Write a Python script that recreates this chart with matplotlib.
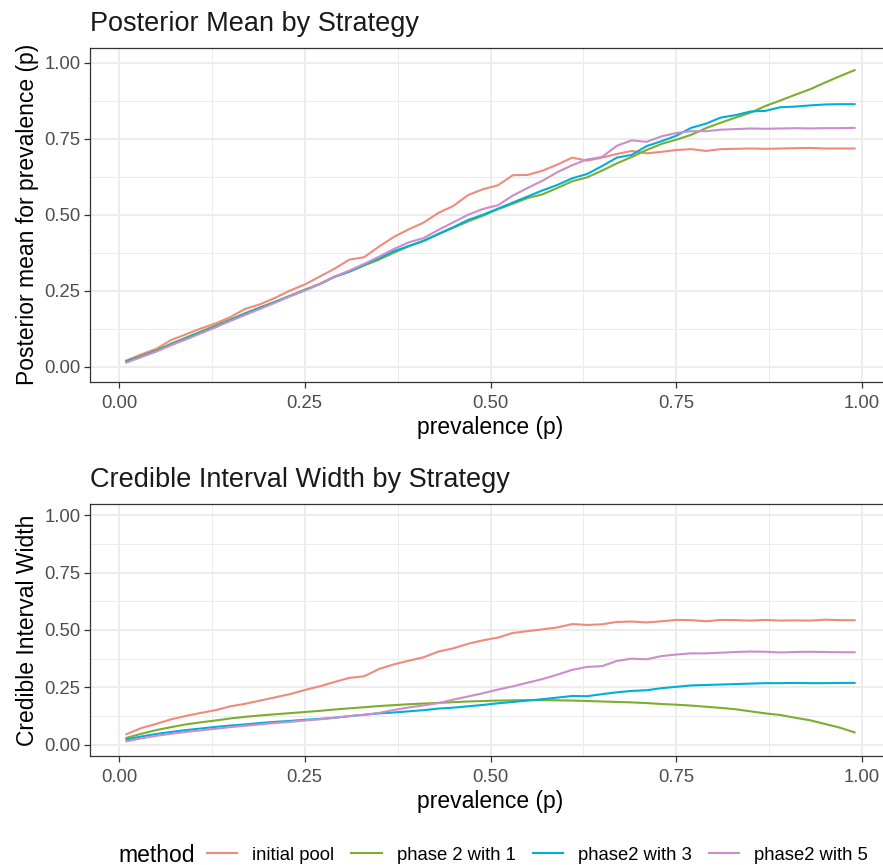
import numpy as np
import matplotlib.pyplot as plt

plt.rcParams['font.family'] = ['Liberation Sans', 'DejaVu Sans']

# prevalence grid (every other simulated point)
prevalence = np.round(np.arange(0.01, 1.0, 0.02), 2)

methods = ["initial pool", "phase 2 with 1", "phase2 with 3", "phase2 with 5"]
colors = ["#F08A7C", "#7CAE2E", "#00AEDC", "#CB8ECB"]

# posterior mean for prevalence
mean_initial = [0.020, 0.040, 0.058, 0.087, 0.106, 0.125, 0.142, 0.163, 0.190, 0.205,
                0.226, 0.250, 0.270, 0.296, 0.322, 0.352, 0.360, 0.395, 0.427, 0.452,
                0.474, 0.506, 0.529, 0.565, 0.584, 0.597, 0.630, 0.631, 0.645, 0.665,
                0.688, 0.678, 0.688, 0.700, 0.710, 0.702, 0.707, 0.713, 0.716, 0.710,
                0.716, 0.717, 0.718, 0.717, 0.718, 0.719, 0.720, 0.718, 0.718, 0.718]
mean_p2w1 = [0.018, 0.035, 0.053, 0.075, 0.095, 0.115, 0.135, 0.155, 0.176, 0.195,
             0.213, 0.233, 0.253, 0.272, 0.296, 0.312, 0.333, 0.352, 0.375, 0.396,
             0.415, 0.436, 0.457, 0.478, 0.497, 0.518, 0.536, 0.555, 0.567, 0.588,
             0.610, 0.623, 0.645, 0.669, 0.690, 0.713, 0.733, 0.747, 0.763, 0.785,
             0.803, 0.820, 0.836, 0.858, 0.876, 0.895, 0.913, 0.935, 0.956, 0.976]
mean_p2w3 = [0.016, 0.033, 0.051, 0.072, 0.092, 0.112, 0.131, 0.153, 0.173, 0.193,
             0.212, 0.232, 0.251, 0.271, 0.295, 0.313, 0.335, 0.357, 0.380, 0.397,
             0.413, 0.437, 0.459, 0.483, 0.500, 0.520, 0.540, 0.560, 0.580, 0.598,
             0.620, 0.634, 0.660, 0.688, 0.697, 0.726, 0.742, 0.760, 0.786, 0.800,
             0.820, 0.828, 0.840, 0.842, 0.854, 0.856, 0.860, 0.863, 0.864, 0.864]
mean_p2w5 = [0.013, 0.031, 0.049, 0.070, 0.089, 0.109, 0.129, 0.150, 0.170, 0.190,
             0.210, 0.231, 0.250, 0.271, 0.296, 0.316, 0.338, 0.362, 0.387, 0.409,
             0.423, 0.450, 0.475, 0.500, 0.519, 0.531, 0.563, 0.588, 0.612, 0.640,
             0.663, 0.682, 0.690, 0.727, 0.745, 0.740, 0.758, 0.769, 0.775, 0.775,
             0.780, 0.782, 0.784, 0.783, 0.784, 0.785, 0.784, 0.785, 0.785, 0.786]

# credible interval width
width_initial = [0.045, 0.072, 0.090, 0.110, 0.125, 0.138, 0.150, 0.167, 0.178, 0.192,
                 0.206, 0.220, 0.238, 0.254, 0.273, 0.291, 0.298, 0.330, 0.350, 0.366,
                 0.381, 0.406, 0.420, 0.440, 0.455, 0.467, 0.487, 0.495, 0.503, 0.511,
                 0.526, 0.522, 0.525, 0.535, 0.537, 0.533, 0.538, 0.544, 0.543, 0.538,
                 0.544, 0.543, 0.541, 0.544, 0.541, 0.542, 0.541, 0.545, 0.543, 0.543]
width_p2w1 = [0.029, 0.047, 0.063, 0.076, 0.088, 0.097, 0.105, 0.114, 0.121, 0.127,
              0.132, 0.137, 0.142, 0.147, 0.153, 0.158, 0.163, 0.168, 0.172, 0.176,
              0.179, 0.182, 0.185, 0.188, 0.190, 0.192, 0.193, 0.194, 0.194, 0.193,
              0.192, 0.190, 0.188, 0.186, 0.184, 0.181, 0.177, 0.174, 0.170, 0.165,
              0.160, 0.154, 0.145, 0.136, 0.129, 0.117, 0.106, 0.090, 0.074, 0.053]
width_p2w3 = [0.022, 0.035, 0.046, 0.055, 0.063, 0.070, 0.077, 0.083, 0.088, 0.094,
              0.099, 0.103, 0.108, 0.112, 0.117, 0.124, 0.130, 0.136, 0.140, 0.145,
              0.150, 0.157, 0.161, 0.167, 0.173, 0.180, 0.186, 0.192, 0.198, 0.205,
              0.212, 0.211, 0.220, 0.228, 0.234, 0.237, 0.246, 0.252, 0.258, 0.260,
              0.262, 0.264, 0.266, 0.268, 0.268, 0.269, 0.268, 0.268, 0.269, 0.269]
width_p2w5 = [0.014, 0.027, 0.038, 0.047, 0.055, 0.062, 0.069, 0.076, 0.082, 0.088,
              0.094, 0.099, 0.105, 0.110, 0.117, 0.124, 0.130, 0.138, 0.151, 0.162,
              0.171, 0.181, 0.196, 0.210, 0.224, 0.240, 0.254, 0.270, 0.286, 0.305,
              0.326, 0.339, 0.342, 0.365, 0.375, 0.372, 0.386, 0.393, 0.398, 0.398,
              0.401, 0.404, 0.406, 0.405, 0.402, 0.404, 0.405, 0.404, 0.403, 0.403]

ticks = [0.0, 0.25, 0.5, 0.75, 1.0]
tick_labels = ["0.00", "0.25", "0.50", "0.75", "1.00"]

W, H = 883, 865
fig = plt.figure(figsize=(W / 100, H / 100), dpi=100)


def px_axes(left, top, right, bottom):
    return fig.add_axes([left / W, 1 - bottom / H, (right - left) / W, (bottom - top) / H])


def style(ax, title, ylabel):
    ax.set_xlim(-0.039, 1.039)
    ax.set_ylim(-0.05, 1.05)
    ax.set_xticks(ticks)
    ax.set_xticklabels(tick_labels)
    ax.set_yticks(ticks)
    ax.set_yticklabels(tick_labels)
    ax.set_xticks([0.125, 0.375, 0.625, 0.875], minor=True)
    ax.set_yticks([0.125, 0.375, 0.625, 0.875], minor=True)
    ax.grid(which='major', color='#EBEBEB', lw=1.3)
    ax.grid(which='minor', color='#EBEBEB', lw=0.7)
    ax.set_axisbelow(True)
    for s in ax.spines.values():
        s.set_color('#333333')
        s.set_linewidth(0.9)
    ax.tick_params(which='major', length=4.3, width=0.9, color='#333333',
                   labelsize=13.3, labelcolor='#4D4D4D')
    ax.tick_params(axis='x', pad=5)
    ax.tick_params(axis='y', pad=2.5)
    ax.tick_params(which='minor', length=0)
    ax.set_title(title, loc='left', fontsize=19.5, color='#1A1A1A', pad=12)
    ax.set_xlabel("prevalence (p)", fontsize=16.5, color='black', labelpad=3)
    ax.set_ylabel(ylabel, fontsize=16.5, color='black', labelpad=3.5)


ax1 = px_axes(90, 47.7, 891, 381.7)
for vals, lab, c in zip([mean_initial, mean_p2w1, mean_p2w3, mean_p2w5], methods, colors):
    ax1.plot(prevalence, vals, color=c, lw=1.5, label=lab)
style(ax1, "Posterior Mean by Strategy", "Posterior mean for prevalence (p)")

ax2 = px_axes(90, 504, 891, 756)
for vals, lab, c in zip([width_initial, width_p2w1, width_p2w3, width_p2w5], methods, colors):
    ax2.plot(prevalence, vals, color=c, lw=1.5, label=lab)
style(ax2, "Credible Interval Width by Strategy", "Credible Interval Width")

handles, labels = ax1.get_legend_handles_labels()
fig.text(118 / W, 1 - 855 / H, "method", fontsize=16.5, va='center', ha='left')
fig.legend(handles, labels, loc='center left', bbox_to_anchor=(207 / W, 1 - 855 / H),
           ncol=4, frameon=False, fontsize=13.3, handlelength=1.65, handletextpad=0.8,
           columnspacing=0.92, borderpad=0, borderaxespad=0)

fig.savefig("out.png", dpi=100)
